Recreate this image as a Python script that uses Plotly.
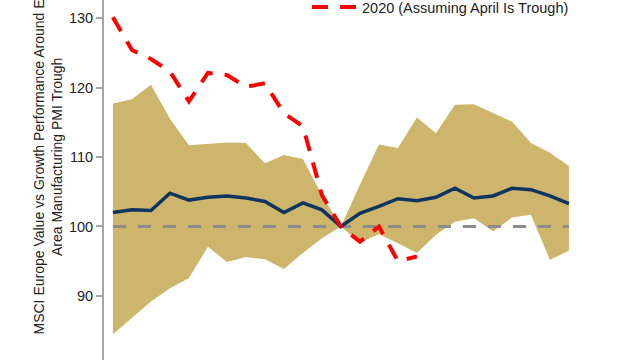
import plotly.graph_objects as go

months = list(range(-12, 13))

range_upper = [117.7, 118.3, 120.4, 115.5, 111.7, 111.9, 112.1, 112.0, 109.1, 110.3, 109.7, 104.5, 100.0,
               106.0, 111.8, 111.3, 115.7, 113.4, 117.5, 117.6, 116.3, 115.1, 112.0, 110.6, 108.7]
range_lower = [84.5, 86.9, 89.2, 91.1, 92.6, 97.1, 94.9, 95.6, 95.3, 93.9, 96.2, 98.3, 100.0,
               97.7, 98.9, 97.6, 96.2, 98.8, 100.7, 101.2, 99.3, 101.3, 101.7, 95.2, 96.5]
median = [102.0, 102.4, 102.3, 104.8, 103.8, 104.2, 104.4, 104.1, 103.6, 102.0, 103.4, 102.4, 100.0,
          101.9, 102.9, 104.0, 103.7, 104.2, 105.5, 104.1, 104.4, 105.5, 105.3, 104.4, 103.3]
months_2020 = list(range(-12, 5))
values_2020 = [130.1, 125.4, 124.1, 122.3, 118.0, 122.1, 121.8, 120.1, 120.6, 116.3, 114.4, 104.5, 100.0,
               97.8, 100.0, 95.0, 95.7]
baseline = [100.0] * len(months)

BAND = "#CDB56C"
NAVY = "#0E3560"
RED = "#FF0000"
GREY = "#8C8C8C"

fig = go.Figure()
fig.add_trace(go.Scatter(x=months, y=range_lower, mode="lines", line=dict(width=0, color=BAND),
                         showlegend=False, hoverinfo="skip"))
fig.add_trace(go.Scatter(x=months, y=range_upper, mode="lines", line=dict(width=0, color=BAND),
                         fill="tonexty", fillcolor=BAND, showlegend=False, name="Range"))
fig.add_trace(go.Scatter(x=months, y=baseline, mode="lines",
                         line=dict(color=GREY, width=3, dash="13px,12px"), showlegend=False))
fig.add_trace(go.Scatter(x=months, y=median, mode="lines",
                         line=dict(color=NAVY, width=3.5), showlegend=False, name="Median"))
fig.add_trace(go.Scatter(x=months_2020, y=values_2020, mode="lines",
                         line=dict(color=RED, width=4, dash="16px,12px"),
                         name="2020 (Assuming April Is Trough)"))

fig.update_layout(
    width=640, height=360,
    margin=dict(l=104, r=0, t=0, b=0, autoexpand=False),
    paper_bgcolor="white", plot_bgcolor="white",
    font=dict(family="Liberation Sans, Arial, sans-serif", size=14.5, color="#222222"),
    legend=dict(orientation="h", x=(307 - 104) / 536, y=1 - 7 / 360, xanchor="left", yanchor="middle",
                bgcolor="rgba(0,0,0,0)", font=dict(size=14.5, color="#222222"), itemwidth=45),
    xaxis=dict(range=[-12.47, 15.74], visible=False, showgrid=False, zeroline=False),
    yaxis=dict(range=[80.79, 132.59], tickvals=[80, 90, 100, 110, 120, 130], automargin=False,
               showgrid=False, zeroline=False, showline=True, linecolor="#A6A6A6", linewidth=2,
               ticks="outside", ticklen=6, tickcolor="#A6A6A6", tickwidth=1.5,
               tickfont=dict(size=14.5, color="#222222")),
    annotations=[dict(
        text="MSCI Europe Value vs Growth Performance Around Euro<br>Area Manufacturing PMI Trough",
        xref="paper", yref="paper", x=(47.5 - 104) / 536, y=1 - 157 / 360,
        xanchor="center", yanchor="middle", textangle=-90, showarrow=False,
        font=dict(size=14, color="#222222"))],
)

fig.write_html("out.html", config={"displayModeBar": False},
               post_script="document.body.style.margin='0';document.body.style.overflow='hidden';")
